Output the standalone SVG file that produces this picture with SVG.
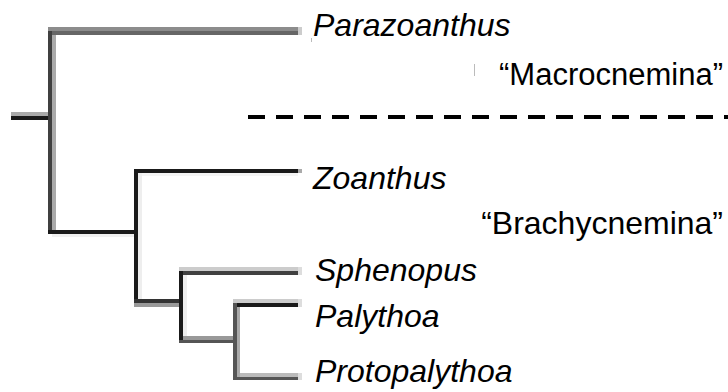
<svg xmlns="http://www.w3.org/2000/svg" width="728" height="392" viewBox="0 0 728 392">
<style>
.tx{font-family:"Liberation Sans",Arial,sans-serif;font-size:32px;fill:#000}
.it{font-style:italic}
.q{font-size:32px}
.q31{font-size:31px}
</style>
<rect width="728" height="392" fill="#fff"/>
<g id="connectors">
  <!-- root -->
  <rect x="11" y="112" width="41" height="4" fill="#aaa"/>
  <rect x="11" y="116" width="41" height="4" fill="#1a1a1a"/>
  <!-- left vertical -->
  <rect x="52" y="27" width="4" height="207" fill="#aaa"/>
  <rect x="48" y="27" width="4" height="207" fill="#404040"/>
  <!-- top horizontal -->
  <rect x="48" y="27" width="250" height="4" fill="#8c8c8c"/>
  <rect x="52" y="31" width="246" height="4" fill="#666"/>
  <rect x="298" y="27" width="4" height="8" fill="#ccc"/>
  <!-- bottom horizontal to Zoanthus clade -->
  <rect x="48" y="230" width="90" height="4" fill="#1a1a1a"/>
  <rect x="52" y="234" width="82" height="3" fill="#f0f0f0"/>
  <!-- Zoanthus vertical and horizontal -->
  <rect x="138" y="173" width="4" height="126" fill="#eee"/>
  <rect x="134" y="169" width="4" height="134" fill="#1a1a1a"/>
  <rect x="134" y="169" width="164" height="4" fill="#1a1a1a"/>
  <rect x="142" y="173" width="156" height="3" fill="#f4f4f4"/>
  <rect x="298" y="169" width="4" height="4" fill="#aaa"/>
  <!-- horizontal to Sphenopus clade -->
  <rect x="134" y="299" width="47" height="4" fill="#333"/>
  <rect x="134" y="303" width="45" height="4" fill="#999"/>
  <!-- Sphenopus clade vertical -->
  <rect x="183" y="275" width="4" height="62" fill="#eee"/>
  <rect x="179" y="267" width="4" height="76" fill="#1a1a1a"/>
  <!-- Sphenopus horizontal -->
  <rect x="179" y="267" width="119" height="4" fill="#ccc"/>
  <rect x="183" y="271" width="115" height="4" fill="#404040"/>
  <rect x="298" y="267" width="4" height="8" fill="#ddd"/>
  <!-- horizontal to Palythoa clade -->
  <rect x="183" y="336" width="54" height="4" fill="#999"/>
  <rect x="179" y="340" width="58" height="3" fill="#555"/>
  <!-- Palythoa clade vertical -->
  <rect x="237" y="303" width="3" height="74" fill="#aaa"/>
  <rect x="233" y="299" width="4" height="81" fill="#555"/>
  <!-- Palythoa horizontal -->
  <rect x="233" y="299" width="65" height="4" fill="#ccc"/>
  <rect x="237" y="303" width="61" height="4" fill="#1a1a1a"/>
  <rect x="298" y="299" width="4" height="8" fill="#ddd"/>
  <!-- Protopalythoa horizontal -->
  <rect x="240" y="373" width="58" height="4" fill="#bbb"/>
  <rect x="233" y="377" width="65" height="3" fill="#555"/>
  <rect x="298" y="373" width="4" height="7" fill="#ddd"/>
  <!-- dashed separator -->
  <line x1="248" y1="117" x2="728" y2="117" stroke="#000" stroke-width="4" stroke-dasharray="17 11"/>
  <!-- faint ticks -->
  <line x1="474.5" y1="64" x2="474.5" y2="76" stroke="#bbb" stroke-width="1"/>
  <line x1="311.5" y1="38" x2="311.5" y2="42" stroke="#bbb" stroke-width="1"/>
</g>
<g id="node-parazoanthus"><text class="tx it" x="313" y="36">Parazoanthus</text></g>
<g id="node-macrocnemina"><text class="tx q31" x="723" y="85" text-anchor="end">“Macrocnemina”</text></g>
<g id="node-zoanthus"><text class="tx it" x="313" y="189">Zoanthus</text></g>
<g id="node-brachycnemina"><text class="tx q" x="723" y="234" text-anchor="end">“Brachycnemina”</text></g>
<g id="node-sphenopus"><text class="tx it" x="315" y="281">Sphenopus</text></g>
<g id="node-palythoa"><text class="tx it" x="315" y="327">Palythoa</text></g>
<g id="node-protopalythoa"><text class="tx it" x="315" y="382">Protopalythoa</text></g>
</svg>
